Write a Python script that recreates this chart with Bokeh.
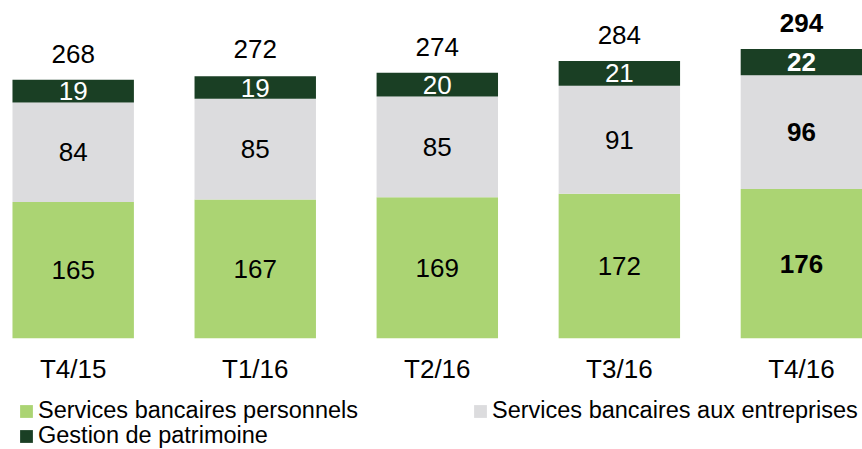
from bokeh.plotting import figure
from bokeh.models import ColumnDataSource, Range1d, Legend, LegendItem
from bokeh.embed import file_html
from bokeh.resources import INLINE
from bokeh.core.properties import value

# ---- data ----
quarters = ["T4/15", "T1/16", "T2/16", "T3/16", "T4/16"]
personnels = [165, 167, 169, 172, 176]
entreprises = [84, 85, 85, 91, 96]
patrimoine = [19, 19, 20, 21, 22]
totals = [268, 272, 274, 284, 294]
series_names = ["Services bancaires personnels",
                "Services bancaires aux entreprises",
                "Gestion de patrimoine"]
bold_flags = [False, False, False, False, True]
AXIS_MIN = 50  # truncated value axis start

# ---- styles ----
C_GREEN = "#abd473"
C_GRAY = "#dcdcde"
C_DARK = "#1a3f24"
FONT = "Liberation Sans"

n = len(quarters)
xs = list(range(n))
g_top = personnels
e_top = [a + b for a, b in zip(personnels, entreprises)]
d_top = [a + b + c for a, b, c in zip(personnels, entreprises, patrimoine)]
styles = ["bold" if b else "normal" for b in bold_flags]

src = ColumnDataSource(dict(
    x=xs,
    base=[AXIS_MIN] * n,
    g_top=g_top, e_top=e_top, d_top=d_top,
    g_mid=[(AXIS_MIN + t) / 2 for t in g_top],
    e_mid=[(a + b) / 2 for a, b in zip(g_top, e_top)],
    d_mid=[(a + b) / 2 for a, b in zip(e_top, d_top)],
    g_lab=[str(v) for v in personnels],
    e_lab=[str(v) for v in entreprises],
    d_lab=[str(v) for v in patrimoine],
    t_lab=[str(v) for v in totals],
    totals=totals,
    cat=quarters,
    style=styles,
))

PX_PER_UNIT = 1.185
BASE_PX = 337.7
H = 449
W = 862
y_end = AXIS_MIN + BASE_PX / PX_PER_UNIT
y_start = AXIS_MIN - (H - BASE_PX) / PX_PER_UNIT

p = figure(width=W, height=H, output_backend="svg", toolbar_location=None,
           x_range=Range1d(-0.3993, 4.3356), y_range=Range1d(y_start, y_end),
           min_border=0)
p.axis.visible = False
p.xgrid.visible = False
p.ygrid.visible = False
p.outline_line_color = None
p.background_fill_color = "white"
p.border_fill_color = "white"

BW = 0.667
r_g = p.vbar(x="x", bottom="base", top="g_top", width=BW, source=src,
             fill_color=C_GREEN, line_color=None)
r_e = p.vbar(x="x", bottom="g_top", top="e_top", width=BW, source=src,
             fill_color=C_GRAY, line_color=None)
r_d = p.vbar(x="x", bottom="e_top", top="d_top", width=BW, source=src,
             fill_color=C_DARK, line_color=None)

common = dict(source=src, text_font=value(FONT), text_font_size="26px",
              text_align="center", text_baseline="middle", text_font_style="style")
p.text(x="x", y="g_mid", text="g_lab", text_color="black", **common)
p.text(x="x", y="e_mid", text="e_lab", text_color="black", **common)
p.text(x="x", y="d_mid", text="d_lab", text_color="white", **common)
p.text(x="x", y="totals", text="t_lab", text_color="black", y_offset=-26, **common)
p.text(x="x", y="base", text="cat", source=src, text_font=value(FONT),
       text_font_size="26px", text_align="center", text_baseline="middle",
       text_color="black", y_offset=31)

leg_common = dict(glyph_width=16, glyph_height=16, label_standoff=4,
                  label_text_font=FONT, label_text_font_size="23.5px",
                  label_text_color="black", spacing=0,
                  padding=0, margin=0, border_line_color=None,
                  background_fill_alpha=0)
leg1 = Legend(items=[LegendItem(label=series_names[0], renderers=[r_g])],
              location=(18, 25), **leg_common)
leg2 = Legend(items=[LegendItem(label=series_names[1], renderers=[r_e])],
              location=(472, 25), **leg_common)
leg3 = Legend(items=[LegendItem(label=series_names[2], renderers=[r_d])],
              location=(18, 0), **leg_common)
p.add_layout(leg1, "center")
p.add_layout(leg2, "center")
p.add_layout(leg3, "center")

open("out.html", "w").write(file_html(p, INLINE))
